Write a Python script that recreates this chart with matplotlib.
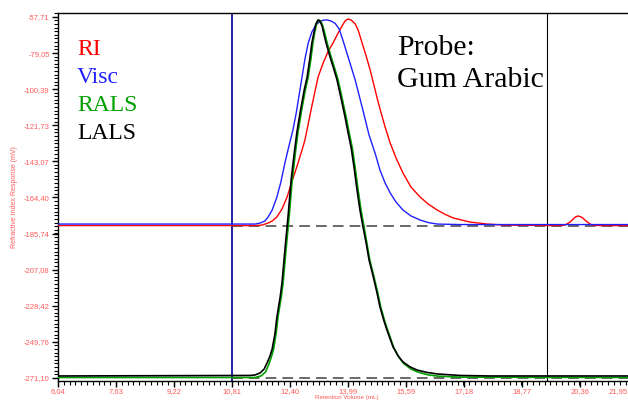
import matplotlib.pyplot as plt
from matplotlib.ticker import FixedLocator, MultipleLocator

#----------------------------------------------------------
# data (x: retention volume, y: response)
ri_x=[6.04, 11.45, 11.64, 11.81, 11.92, 12.05, 12.19, 12.33, 12.47, 12.63, 12.74, 12.82, 13.01, 13.18,
      13.32, 13.45, 13.59, 13.73, 13.84, 13.92, 14.00, 14.09, 14.20, 14.28, 14.39, 14.50, 14.61, 14.72,
      14.80, 14.88, 15.02, 15.16, 15.32, 15.51, 15.73, 15.98, 16.20, 16.45, 16.67, 16.89, 17.35, 17.82,
      18.31, 19.82, 19.96, 20.10, 20.24, 20.32, 20.43, 20.57, 20.70, 20.92, 21.95]
ri_y=[-181.0, -181.0, -180.7, -179.5, -178.3, -175.9, -171.2, -164.1, -154.6, -144.0, -136.3, -130.4, -110.3, -93.2,
      -84.9, -78.4, -73.1, -67.2, -63.0, -60.1, -58.9, -59.5, -61.8, -65.4, -73.1, -80.8, -89.0, -98.5,
      -105.5, -112.0, -122.7, -132.2, -141.0, -149.9, -158.2, -164.1, -168.2, -171.8, -174.4, -176.5, -178.9, -180.1,
      -180.7, -181.0, -180.7, -178.9, -176.0, -175.3, -176.2, -178.9, -180.7, -181.0, -181.0]

visc_x=[6.04, 11.45, 11.59, 11.72, 11.81, 11.92, 12.05, 12.16, 12.27, 12.38, 12.49, 12.58, 12.66, 12.74,
        12.82, 12.91, 13.01, 13.12, 13.23, 13.34, 13.43, 13.54, 13.65, 13.76, 13.87, 14.03, 14.20, 14.39,
        14.58, 14.75, 14.88, 15.02, 15.16, 15.32, 15.51, 15.73, 15.98, 16.20, 16.45, 17.08, 21.95]
visc_y=[-180.1, -180.1, -179.5, -178.3, -175.9, -171.8, -164.1, -155.2, -144.0, -134.0, -124.5, -114.5, -103.8, -93.2,
        -82.5, -73.1, -66.6, -62.4, -60.4, -59.5, -59.5, -60.1, -61.5, -64.8, -72.0, -83.1, -95.0, -111.0,
        -127.5, -138.5, -148.2, -155.8, -161.7, -167.1, -171.8, -175.3, -177.7, -179.2, -180.1, -180.4, -180.4]

rals_x=[6.04, 11.45, 11.62, 11.74, 11.82, 11.90, 11.96, 12.03, 12.08, 12.17, 12.22, 12.30, 12.39, 12.47,
        12.55, 12.63, 12.72, 12.83, 12.91, 12.99, 13.04, 13.09, 13.14, 13.19, 13.25, 13.31, 13.37, 13.43,
        13.54, 13.65, 13.73, 13.84, 13.95, 14.03, 14.12, 14.20, 14.28, 14.36, 14.44, 14.52, 14.60, 14.71,
        14.82, 14.90, 15.01, 15.09, 15.26, 15.40, 15.53, 15.73, 15.92, 16.19, 16.47, 17.10, 21.95]
rals_y=[-270.8, -270.8, -269.8, -267.5, -263.5, -258.5, -254.0, -244.5, -235.0, -223.2, -214.9, -195.4, -174.7, -154.1,
        -139.3, -125.7, -113.9, -100.9, -93.2, -81.4, -73.1, -66.6, -61.8, -59.5, -60.1, -63.0, -67.8, -73.1,
        -81.4, -89.0, -94.9, -105.6, -116.8, -125.7, -135.1, -146.9, -160.0, -171.8, -181.3, -191.3, -201.3, -210.8,
        -220.9, -229.1, -237.4, -242.7, -253.2, -258.8, -262.5, -265.8, -267.6, -269.2, -270.0, -270.6, -270.8]

lals_x=[6.04, 11.31, 11.45, 11.59, 11.70, 11.78, 11.86, 11.92, 12.00, 12.05, 12.14, 12.19, 12.27, 12.36,
        12.44, 12.52, 12.60, 12.69, 12.80, 12.88, 12.96, 13.01, 13.07, 13.12, 13.18, 13.23, 13.29, 13.34,
        13.40, 13.51, 13.62, 13.70, 13.81, 13.92, 14.00, 14.09, 14.17, 14.25, 14.33, 14.41, 14.50, 14.58,
        14.69, 14.80, 14.88, 14.99, 15.07, 15.24, 15.38, 15.51, 15.71, 15.90, 16.17, 16.45, 17.08, 17.90, 21.95]
lals_y=[-269.9, -269.6, -269.3, -268.1, -265.8, -262.2, -258.1, -254.0, -244.5, -235.0, -223.2, -214.9, -195.4, -174.7,
        -154.1, -139.3, -125.7, -113.9, -100.9, -93.2, -81.4, -73.1, -66.6, -61.8, -59.5, -60.1, -63.0, -67.8,
        -73.1, -81.4, -89.0, -94.9, -105.6, -116.8, -125.7, -135.1, -146.9, -160.0, -171.8, -181.3, -191.3, -201.3,
        -210.8, -220.9, -229.1, -237.4, -242.7, -252.8, -258.1, -261.6, -264.6, -266.4, -267.8, -268.7, -269.6, -269.9, -269.9]

x_ticks=[6.04, 7.63, 9.22, 10.81, 12.40, 13.99, 15.59, 17.18, 18.77, 20.36, 21.95]
y_ticks=[-57.71, -79.05, -100.39, -121.73, -143.07, -164.40, -185.74, -207.08, -228.42, -249.76, -271.10]

lim_blue=[10.81]
lim_black=[19.47]
base_lvl=[-181.0, -271.1]

#----------------------------------------------------------
c_tick='#ff5a5a'
fig=plt.figure(figsize=(6.28, 4.0), dpi=100)
ax=fig.add_axes([58/628, 19/400, 579.5/628, 368/400])

ax.plot(ri_x, ri_y, color='#ff0000', lw=1.0, zorder=3)
ax.plot(visc_x, visc_y, color='#2020ff', lw=1.0, zorder=4)
ax.plot(rals_x, rals_y, color='#00a000', lw=1.2, zorder=5)
ax.plot(lals_x, lals_y, color='#000000', lw=1.2, zorder=6)

for v in lim_blue:
	ax.axvline(v, color='#1010a0', lw=1.3, zorder=2)
for v in lim_black:
	ax.axvline(v, color='#000000', lw=0.8, zorder=2)
for b in base_lvl:
	ax.plot([lim_blue[0], x_ticks[-1]], [b, b], color='#404040', lw=1.1, dashes=(7, 4), zorder=2)

ax.set_xlim(6.04, 21.95)
ax.set_ylim(-272.87, -55.35)

ax.xaxis.set_major_locator(FixedLocator(x_ticks))
ax.yaxis.set_major_locator(FixedLocator(y_ticks))
ax.xaxis.set_minor_locator(MultipleLocator(0.159))
ax.yaxis.set_minor_locator(MultipleLocator(2.134))
l_xlbl=[f'{v:.2f}'.replace('.', ',') for v in x_ticks]
#last x label would fall off the edge -> drawn separately, flush right
ax.set_xticklabels(l_xlbl[:-1]+[''])
ax.set_yticklabels([f'{v:.2f}'.replace('.', ',') for v in y_ticks])
ax.tick_params(which='major', direction='out', length=4.5, width=1.0, labelsize=5.5, labelcolor=c_tick, pad=1.5)
ax.tick_params(which='minor', direction='out', length=3, width=0.8)
ax.tick_params(axis='x', which='major', pad=0.8)
for lbl in ax.get_xticklabels()+ax.get_yticklabels():
	lbl.set_family('Liberation Sans')
fig.text(627.5/628, 1-388.5/400, l_xlbl[-1], fontsize=5.5, color=c_tick, family='Liberation Sans',
	ha='right', va='top')
ax.spines['right'].set_visible(False)
for s in ['left', 'bottom', 'top']:
	ax.spines[s].set_linewidth(1.0)

ax.set_ylabel('Refractive Index Response (mV)', fontsize=5, color=c_tick, family='Liberation Sans', labelpad=4)
fig.text(347/628, 0.2/400, 'Retention Volume (mL)', fontsize=4.5, color=c_tick, family='Liberation Sans',
	ha='center', va='bottom')

#legend-like labels
d_lbl={'RI': '#ff0000', 'Visc': '#2020ff', 'RALS': '#00a000', 'LALS': '#000000'}
for i, (k, c) in enumerate(d_lbl.items()):
	fig.text(77/628, 1-(55+28*i)/400, k, color=c, fontsize=17, family='Liberation Serif', va='baseline')
fig.text(397/628, 1-55/400, 'Probe:', fontsize=21.5, family='Liberation Serif', va='baseline')
fig.text(397/628, 1-87/400, 'Gum Arabic', fontsize=21.5, family='Liberation Serif', va='baseline')

plt.savefig('out.png', dpi=100)
plt.close()
